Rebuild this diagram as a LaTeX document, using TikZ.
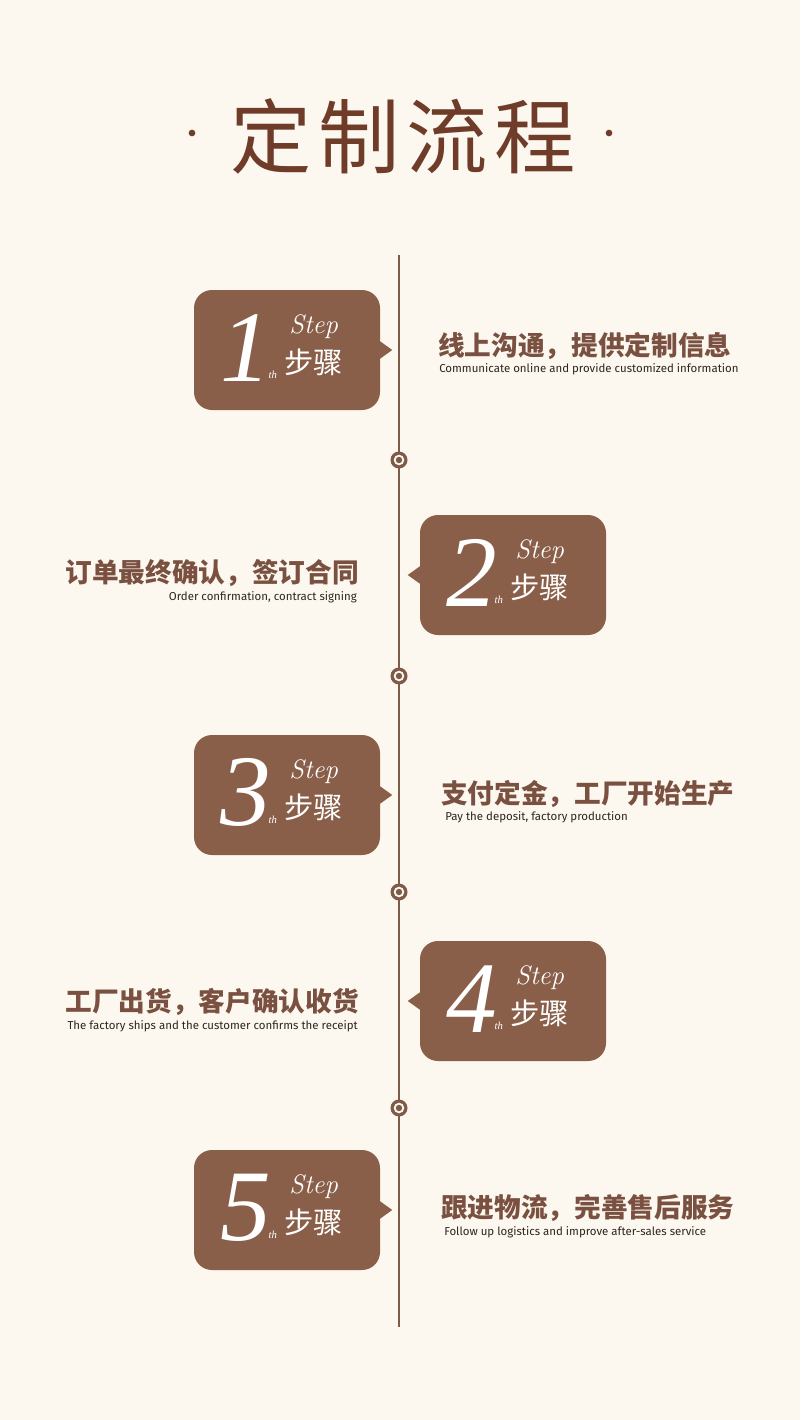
\documentclass[tikz,border=0pt]{standalone}
\usepackage{fontspec}
\usetikzlibrary{calc}
\newfontfamily\cjk{Noto Sans CJK SC}
\newfontfamily\en{Fira Sans}
\newfontfamily\numf{Liberation Serif}
\definecolor{bgc}{HTML}{FCF7EF}
\definecolor{boxc}{HTML}{8A5F4A}
\definecolor{titlec}{HTML}{6E3C28}
\definecolor{linec}{HTML}{7E5A48}
\definecolor{labc}{HTML}{7A5040}
\definecolor{enc}{HTML}{2E2520}
\tikzset{
  stepbox/.style={fill=boxc, rounded corners=13.5pt, minimum width=139.5pt, minimum height=90pt, inner sep=0pt},
  bignum/.style={text=white, font=\numf\fontsize{76}{76}\selectfont\itshape, inner sep=0pt},
  steptxt/.style={text=white, font=\fontsize{20}{20}\selectfont\itshape, inner sep=0pt},
  thtxt/.style={text=white, font=\numf\fontsize{8}{8}\selectfont\itshape, inner sep=0pt},
  bzh/.style={text=white, font=\cjk\fontsize{22}{22}\selectfont, inner sep=0pt},
  zhlab/.style={text=labc, font=\cjk\bfseries\fontsize{20}{21}\selectfont, inner sep=0pt},
  enlab/.style={text=enc, font=\en\fontsize{8.6}{9}\selectfont, inner sep=0pt},
  dotc/.style={circle, fill=linec, minimum size=12.75pt, inner sep=0pt},
}
\newcommand{\stepcontent}[2]{%
  \node[bignum] (#1n) at ($(#1.north west)+(52,58)$) {#2};
  \node[steptxt] (#1s) at ($(#1.north west)+(120,37)$) {Step};
  \node[bzh] (#1z) at ($(#1.north west)+(120,73)$) {步骤};
  \node[thtxt] (#1t) at ($(#1.north west)+(79,85)$) {th};
}
\begin{document}
\begin{tikzpicture}[x=0.75pt,y=-0.75pt]
\fill[bgc] (0,0) rectangle (800,1420);
\useasboundingbox (0,0) rectangle (800,1420);
% title
\node[text=titlec, font=\cjk\fontsize{61}{61}\selectfont, inner sep=0pt] (title) at (403,136) {定\hspace{5pt}制\hspace{5pt}流\hspace{5pt}程};
\node[circle, fill=titlec, minimum size=5pt, inner sep=0pt] (dl) at (192,133) {};
\node[circle, fill=titlec, minimum size=5pt, inner sep=0pt] (dr) at (609,133) {};
% timeline
\coordinate (ltop) at (399,255);
\coordinate (lbot) at (399,1327);
\draw[linec, line width=2.2pt] (ltop) -- (lbot);
\foreach \i/\yy in {1/460,2/676,3/892,4/1108}{
  \node[dotc] (c\i) at (399,\yy) {};
  \fill[bgc] (c\i.center) circle (5.3);
  \fill[linec] (c\i.center) circle (3.2);
}
% boxes
\node[stepbox] (b1) at (287,350) {};
\node[stepbox] (b2) at (513,575) {};
\node[stepbox] (b3) at (287,795) {};
\node[stepbox] (b4) at (513,1001) {};
\node[stepbox] (b5) at (287,1210) {};
% pointers
\foreach \b in {b1,b3,b5}{
  \fill[boxc] ($(\b.east)+(-2,-10)$) -- ($(\b.east)+(12,0)$) -- ($(\b.east)+(-2,10)$) -- cycle;
}
\foreach \b in {b2,b4}{
  \fill[boxc] ($(\b.west)+(2,-10)$) -- ($(\b.west)+(-12,0)$) -- ($(\b.west)+(2,10)$) -- cycle;
}
\stepcontent{b1}{1}
\stepcontent{b2}{2}
\stepcontent{b3}{3}
\stepcontent{b4}{4}
\stepcontent{b5}{5}
% labels
\node[zhlab, anchor=west] (z1) at (438,346) {线上沟通，提供定制信息};
\node[enlab, anchor=west] (e1) at (439,369) {Communicate online and provide customized information};
\node[zhlab, anchor=east] (z2) at (359,573) {订单最终确认，签订合同};
\node[enlab, anchor=east] (e2) at (357,597) {Order confirmation, contract signing};
\node[zhlab, anchor=west] (z3) at (441,794) {支付定金，工厂开始生产};
\node[enlab, anchor=west] (e3) at (445,817) {Pay the deposit, factory production};
\node[zhlab, anchor=east] (z4) at (359,1002) {工厂出货，客户确认收货};
\node[enlab, anchor=east] (e4) at (358,1026) {The factory ships and the customer confirms the receipt};
\node[zhlab, anchor=west] (z5) at (441,1208) {跟进物流，完善售后服务};
\node[enlab, anchor=west] (e5) at (444,1232) {Follow up logistics and improve after-sales service};
\end{tikzpicture}
\end{document}
